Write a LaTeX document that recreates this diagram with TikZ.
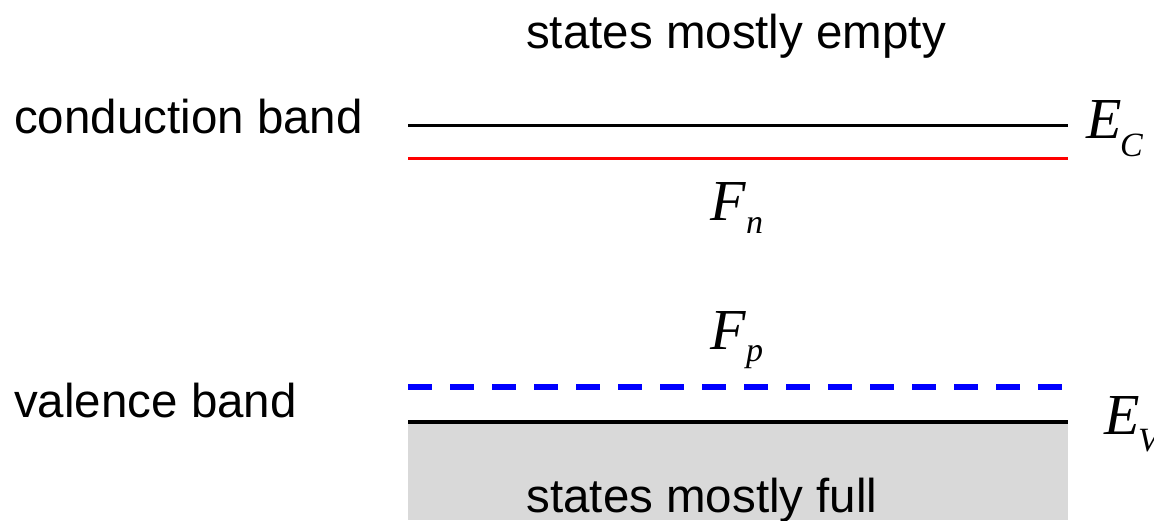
\documentclass[tikz,border=0pt]{standalone}
\usepackage{fontspec}
\setmainfont{Liberation Sans}
\newfontfamily\serifit{Liberation Serif}[ItalicFont=* Italic]
\definecolor{bandgray}{HTML}{D9D9D9}
\definecolor{fnred}{HTML}{FF0000}
\definecolor{fpblue}{HTML}{0000FF}
\begin{document}
\begin{tikzpicture}[x=1pt,y=-1pt,
  lbl/.style={anchor=base,inner sep=0pt,font=\fontsize{47.5}{56}\selectfont},
  sym/.style={anchor=base west,inner sep=0pt,font=\serifit\itshape\fontsize{58}{66}\selectfont},
  subs/.style={anchor=base west,inner sep=0pt,font=\serifit\itshape\fontsize{34}{40}\selectfont},
  level/.style={line width=3pt},
]
\useasboundingbox (0,0) rectangle (1154,520);
% filled valence region
\fill[bandgray] (408,422) rectangle (1068,520);
% band edges and quasi-Fermi levels
\coordinate (ecl) at (408,125); \coordinate (ecr) at (1068,125);
\coordinate (fnl) at (408,158); \coordinate (fnr) at (1068,158);
\coordinate (fpl) at (408,387); \coordinate (fpr) at (1068,387);
\coordinate (evl) at (408,422); \coordinate (evr) at (1068,422);
\draw[level,black] (ecl) -- (ecr);
\draw[level,fnred] (fnl) -- (fnr);
\draw[line width=5.5pt,fpblue,dash pattern=on 24pt off 18pt] (fpl) -- (fpr);
\draw[line width=3.5pt,black] (evl) -- (evr);
% labels
\node[lbl] (empty) at (736,48) {states mostly empty};
\node[lbl,anchor=base west] (cb) at (14,133) {conduction band};
\node[lbl,anchor=base west] (vb) at (14,417) {valence band};
\node[lbl] (full) at (702,512) {states mostly full};
\node[sym] (ec) at (1086,138) {E};
\node[subs] (ecs) at (1120,156) {C};
\node[sym] (fn) at (710,220) {F};
\node[subs] (fns) at (746,233) {n};
\node[sym] (fp) at (710,349) {F};
\node[subs] (fps) at (746,361) {p};
\node[sym] (ev) at (1104,434) {E};
\node[subs] (evs) at (1138,451) {V};
\end{tikzpicture}
\end{document}
